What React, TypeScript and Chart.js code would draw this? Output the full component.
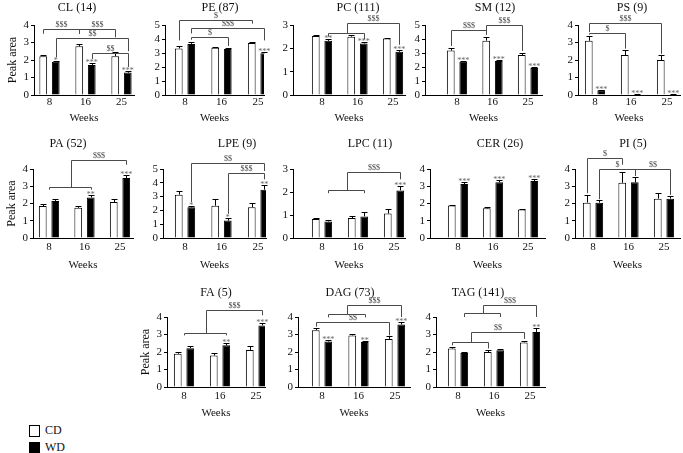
import { useEffect, useRef } from 'react';
import { Chart, registerables } from 'chart.js';

Chart.register(...registerables);

const WEEKS = ['8', '16', '25'];

// ---- data: mean peak area, upper SEM, stars (WD vs CD) ----
const CL_CD = [2.22, 2.78, 2.22];
const CL_CD_SEM = [0.04, 0.12, 0.22];
const CL_WD = [1.9, 1.72, 1.28];
const CL_WD_SEM = [0.05, 0.1, 0.1];
const CL_STARS = ['*', '***', '***'];

const PE_CD = [3.33, 3.38, 3.72];
const PE_CD_SEM = [0.15, 0.07, 0.07];
const PE_WD = [3.65, 3.28, 2.98];
const PE_WD_SEM = [0.15, 0.05, 0.07];
const PE_STARS = ['', '', '***'];

const PC_CD = [2.53, 2.5, 2.42];
const PC_CD_SEM = [0.06, 0.07, 0.04];
const PC_WD = [2.32, 2.21, 1.85];
const PC_WD_SEM = [0.06, 0.06, 0.08];
const PC_STARS = ['**', '***', '***'];

const SM_CD = [3.17, 3.88, 2.86];
const SM_CD_SEM = [0.2, 0.28, 0.17];
const SM_WD = [2.38, 2.42, 1.93];
const SM_WD_SEM = [0.07, 0.1, 0.08];
const SM_STARS = ['***', '***', '***'];

const PS_CD = [3.1, 2.28, 2.0];
const PS_CD_SEM = [0.25, 0.28, 0.28];
const PS_WD = [0.27, 0.03, 0.03];
const PS_WD_SEM = [0.03, 0.01, 0.01];
const PS_STARS = ['***', '***', '***'];

const PA_CD = [1.85, 1.75, 2.08];
const PA_CD_SEM = [0.1, 0.1, 0.2];
const PA_WD = [2.15, 2.35, 3.48];
const PA_WD_SEM = [0.12, 0.13, 0.15];
const PA_STARS = ['', '**', '***'];

const LPE_CD = [3.14, 2.34, 2.22];
const LPE_CD_SEM = [0.25, 0.5, 0.35];
const LPE_WD = [2.22, 1.26, 3.5];
const LPE_WD_SEM = [0.08, 0.22, 0.35];
const LPE_STARS = ['*', '*', '**'];

const LPC_CD = [0.83, 0.87, 1.06];
const LPC_CD_SEM = [0.04, 0.1, 0.2];
const LPC_WD = [0.72, 0.94, 2.07];
const LPC_WD_SEM = [0.05, 0.2, 0.18];
const LPC_STARS = ['', '', '***'];

const CER_CD = [1.88, 1.72, 1.65];
const CER_CD_SEM = [0.05, 0.08, 0.05];
const CER_WD = [3.13, 3.23, 3.3];
const CER_WD_SEM = [0.13, 0.12, 0.1];
const CER_STARS = ['***', '***', '***'];

const PI_CD = [2.05, 3.2, 2.28];
const PI_CD_SEM = [0.45, 0.6, 0.3];
const PI_WD = [2.05, 3.23, 2.28];
const PI_WD_SEM = [0.13, 0.28, 0.13];
const PI_STARS = ['', '', ''];

const FA_CD = [1.9, 1.8, 2.12];
const FA_CD_SEM = [0.12, 0.12, 0.22];
const FA_WD = [2.22, 2.38, 3.52];
const FA_WD_SEM = [0.12, 0.15, 0.16];
const FA_STARS = ['', '**', '***'];

const DAG_CD = [3.25, 2.95, 2.75];
const DAG_CD_SEM = [0.1, 0.08, 0.15];
const DAG_WD = [2.6, 2.57, 3.57];
const DAG_WD_SEM = [0.07, 0.08, 0.14];
const DAG_STARS = ['***', '**', '***'];

const TAG_CD = [2.2, 2.0, 2.55];
const TAG_CD_SEM = [0.08, 0.1, 0.1];
const TAG_WD = [1.95, 2.1, 3.15];
const TAG_WD_SEM = [0.05, 0.08, 0.25];
const TAG_STARS = ['', '', '**'];

// ---- significance brackets ($ = time effect), y in data units ----
type Ref = 'c8' | 'w8' | 'c16' | 'w16' | 'c25' | 'w25' | 'g8';
type Bracket = {
  a: Ref; b: Ref; y: number; da: number; db: number; label: string;
  top?: number; to?: Ref; dt?: number;
};

const CL_BR: Bracket[] = [
  { a: 'c8', b: 'c16', y: 3.75, da: 3.5, db: 3.5, label: '$$$' },
  { a: 'c16', b: 'c25', y: 3.75, da: 3.5, db: 3.3, label: '$$$' },
  { a: 'w8', b: 'w25', y: 3.24, da: 2.15, db: 2.5, label: '$$' },
  { a: 'w16', b: 'w25', y: 2.38, da: 2.05, db: 1.6, label: '$$' },
];
const PE_BR: Bracket[] = [
  { a: 'c8', b: 'c25', y: 5.36, da: 3.9, db: 5.1, label: '$' },
  { a: 'w8', b: 'w25', y: 4.76, da: 4.4, db: 3.9, label: '$$$' },
  { a: 'w8', b: 'w16', y: 4.17, da: 3.95, db: 3.5, label: '$' },
];
const PC_BR: Bracket[] = [
  { a: 'w8', b: 'w16', y: 2.64, da: 2.5, db: 2.4, label: '$$$', top: 3.07, to: 'w25', dt: 2.15 },
];
const SM_BR: Bracket[] = [
  { a: 'c8', b: 'c16', y: 4.64, da: 3.5, db: 4.3, label: '$$$' },
  { a: 'c16', b: 'c25', y: 5.0, da: 4.3, db: 3.15, label: '$$$' },
];
const PS_BR: Bracket[] = [
  { a: 'c8', b: 'c25', y: 4.1, da: 3.6, db: 2.35, label: '$$$' },
  { a: 'c8', b: 'c16', y: 3.56, da: 3.45, db: 2.65, label: '$' },
];
const PA_BR: Bracket[] = [
  { a: 'g8', b: 'w16', y: 2.94, da: 2.8, db: 2.8, label: '$$$', top: 4.5, to: 'w25', dt: 4.25 },
];
const LPE_BR: Bracket[] = [
  { a: 'w8', b: 'w25', y: 5.43, da: 2.6, db: 4.85, label: '$$' },
  { a: 'w16', b: 'w25', y: 4.7, da: 1.75, db: 4.25, label: '$$$' },
];
const LPC_BR: Bracket[] = [
  { a: 'w8', b: 'w16', y: 2.1, da: 1.95, db: 1.95, label: '$$$', top: 2.86, to: 'w25', dt: 2.55 },
];
const CER_BR: Bracket[] = [];
const PI_BR: Bracket[] = [
  { a: 'c8', b: 'c16', y: 4.64, da: 2.6, db: 4.25, label: '$' },
  { a: 'w8', b: 'w16', y: 4.0, da: 2.25, db: 3.6, label: '$' },
  { a: 'w16', b: 'w25', y: 4.0, da: 3.6, db: 2.5, label: '$$' },
];
const FA_BR: Bracket[] = [
  { a: 'g8', b: 'w16', y: 3.09, da: 2.95, db: 2.95, label: '$$$', top: 4.38, to: 'w25', dt: 4.1 },
];
const DAG_BR: Bracket[] = [
  { a: 'c8', b: 'c25', y: 3.71, da: 3.45, db: 2.95, label: '$$' },
  { a: 'w8', b: 'w16', y: 4.15, da: 3.98, db: 3.98, label: '$$$', top: 4.66, to: 'w25', dt: 4.0 },
];
const TAG_BR: Bracket[] = [
  { a: 'c8', b: 'c16', y: 2.58, da: 2.38, db: 2.2, label: '$$', top: 3.14, to: 'c25', dt: 2.75 },
  { a: 'w8', b: 'w16', y: 4.2, da: 4.0, db: 4.0, label: '$$$', top: 4.68, to: 'w25', dt: 4.0 },
];

type PanelData = {
  title: string; max: number;
  cd: number[]; cdSem: number[]; wd: number[]; wdSem: number[];
  stars: string[]; brackets: Bracket[];
};

const PANELS: PanelData[] = [
  { title: 'CL (14)', max: 4, cd: CL_CD, cdSem: CL_CD_SEM, wd: CL_WD, wdSem: CL_WD_SEM, stars: CL_STARS, brackets: CL_BR },
  { title: 'PE (87)', max: 5, cd: PE_CD, cdSem: PE_CD_SEM, wd: PE_WD, wdSem: PE_WD_SEM, stars: PE_STARS, brackets: PE_BR },
  { title: 'PC (111)', max: 3, cd: PC_CD, cdSem: PC_CD_SEM, wd: PC_WD, wdSem: PC_WD_SEM, stars: PC_STARS, brackets: PC_BR },
  { title: 'SM (12)', max: 5, cd: SM_CD, cdSem: SM_CD_SEM, wd: SM_WD, wdSem: SM_WD_SEM, stars: SM_STARS, brackets: SM_BR },
  { title: 'PS (9)', max: 4, cd: PS_CD, cdSem: PS_CD_SEM, wd: PS_WD, wdSem: PS_WD_SEM, stars: PS_STARS, brackets: PS_BR },
  { title: 'PA (52)', max: 4, cd: PA_CD, cdSem: PA_CD_SEM, wd: PA_WD, wdSem: PA_WD_SEM, stars: PA_STARS, brackets: PA_BR },
  { title: 'LPE (9)', max: 5, cd: LPE_CD, cdSem: LPE_CD_SEM, wd: LPE_WD, wdSem: LPE_WD_SEM, stars: LPE_STARS, brackets: LPE_BR },
  { title: 'LPC (11)', max: 3, cd: LPC_CD, cdSem: LPC_CD_SEM, wd: LPC_WD, wdSem: LPC_WD_SEM, stars: LPC_STARS, brackets: LPC_BR },
  { title: 'CER (26)', max: 4, cd: CER_CD, cdSem: CER_CD_SEM, wd: CER_WD, wdSem: CER_WD_SEM, stars: CER_STARS, brackets: CER_BR },
  { title: 'PI (5)', max: 4, cd: PI_CD, cdSem: PI_CD_SEM, wd: PI_WD, wdSem: PI_WD_SEM, stars: PI_STARS, brackets: PI_BR },
  { title: 'FA (5)', max: 4, cd: FA_CD, cdSem: FA_CD_SEM, wd: FA_WD, wdSem: FA_WD_SEM, stars: FA_STARS, brackets: FA_BR },
  { title: 'DAG (73)', max: 4, cd: DAG_CD, cdSem: DAG_CD_SEM, wd: DAG_WD, wdSem: DAG_WD_SEM, stars: DAG_STARS, brackets: DAG_BR },
  { title: 'TAG (141)', max: 4, cd: TAG_CD, cdSem: TAG_CD_SEM, wd: TAG_WD, wdSem: TAG_WD_SEM, stars: TAG_STARS, brackets: TAG_BR },
];

// ---- layout (page pixels) ----
type Box = {
  left: number; right: number; top: number; bottom: number;
  c0: number; s: number; titleX: number; titleY: number;
  yTitle: boolean; tickPad: number; weeksPad: number;
};
const R1 = { top: 25, bottom: 95, titleY: 8, tickPad: 1, weeksPad: 4 };
const R2 = { top: 169, bottom: 238, titleY: 144, tickPad: 3, weeksPad: 0 };
const R3 = { top: 317, bottom: 387, titleY: 293, tickPad: 3, weeksPad: 1 };
const BOXES: Box[] = [
  { ...R1, left: 34, right: 134, c0: 49.5, s: 36, titleX: 77, yTitle: true },
  { ...R1, left: 165, right: 264, c0: 185, s: 36.5, titleX: 220, yTitle: false },
  { ...R1, left: 293, right: 405, c0: 322, s: 35.5, titleX: 358, yTitle: false },
  { ...R1, left: 425, right: 542, c0: 457, s: 35.5, titleX: 495, yTitle: false },
  { ...R1, left: 578, right: 680, c0: 595, s: 36, titleX: 632, yTitle: false },
  { ...R2, left: 33, right: 133, c0: 49, s: 35.5, titleX: 68, yTitle: true },
  { ...R2, left: 163, right: 266, c0: 185, s: 36.5, titleX: 237, yTitle: false },
  { ...R2, left: 293, right: 405, c0: 322, s: 36, titleX: 370, yTitle: false },
  { ...R2, left: 430, right: 545, c0: 458, s: 35, titleX: 500, yTitle: false },
  { ...R2, left: 575, right: 680, c0: 593, s: 35.5, titleX: 633, yTitle: false },
  { ...R3, left: 167, right: 265, c0: 184, s: 36, titleX: 216, yTitle: true },
  { ...R3, left: 298, right: 410, c0: 322, s: 36.5, titleX: 350, yTitle: false },
  { ...R3, left: 436, right: 545, c0: 458, s: 36, titleX: 478, yTitle: false },
];

const FONT = "'Liberation Serif', 'DejaVu Serif', serif";
const PAD_T = 32;
const PAD_R = 6;
const XH = 34;
const LINE = '#4a4a4a';

function Panel({ p, b }: { p: PanelData; b: Box }) {
  const ref = useRef<HTMLCanvasElement>(null);
  const YW = b.yTitle ? 28 : 24;
  const cLeft = b.left - YW;
  const cTop = b.top - PAD_T;
  const width = YW + (b.right - b.left) + PAD_R;
  const height = PAD_T + (b.bottom - b.top) + XH + 2;
  const xMin = -(b.c0 - b.left) / b.s;
  const xMax = (b.right - b.c0) / b.s;

  useEffect(() => {
    const canvas = ref.current!;
    const annot = {
      id: 'annot',
      afterDatasetsDraw(chart: any) {
        const ctx = chart.ctx as CanvasRenderingContext2D;
        const ys = chart.scales.y;
        const m0 = chart.getDatasetMeta(0).data;
        const m1 = chart.getDatasetMeta(1).data;
        const bx = (r: Ref): number => {
          const i = r.endsWith('16') ? 1 : r.endsWith('25') ? 2 : 0;
          if (r[0] === 'c') return m0[i].x;
          if (r[0] === 'w') return m1[i].x;
          return (m0[i].x + m1[i].x) / 2;
        };
        const py = (v: number) => ys.getPixelForValue(v);
        ctx.save();
        // error bars (upper SEM)
        ctx.strokeStyle = '#000';
        ctx.lineWidth = 1;
        const series = [
          { v: p.cd, e: p.cdSem, m: m0 },
          { v: p.wd, e: p.wdSem, m: m1 },
        ];
        series.forEach((s) => {
          s.v.forEach((v, i) => {
            const x = Math.round(s.m[i].x) + 0.5;
            const y0 = py(v);
            const y1 = Math.round(py(v + s.e[i])) + 0.5;
            ctx.beginPath();
            ctx.moveTo(x, y0);
            ctx.lineTo(x, y1);
            ctx.moveTo(x - 3, y1);
            ctx.lineTo(x + 3, y1);
            ctx.stroke();
          });
        });
        // stars
        ctx.fillStyle = '#666';
        ctx.font = `8px ${FONT}`;
        ctx.textAlign = 'center';
        ctx.textBaseline = 'alphabetic';
        p.stars.forEach((st, i) => {
          if (!st) return;
          const x = m1[i].x;
          const y = py(p.wd[i] + p.wdSem[i]) + 3;
          ctx.fillText(st, x, y - 1);
        });
        // brackets
        ctx.strokeStyle = LINE;
        ctx.fillStyle = '#444';
        ctx.font = `8px ${FONT}`;
        ctx.textBaseline = 'bottom';
        p.brackets.forEach((br) => {
          const xa = Math.round(bx(br.a)) + 0.5;
          const xb = Math.round(bx(br.b)) + 0.5;
          const y = Math.round(py(br.y)) + 0.5;
          ctx.beginPath();
          ctx.moveTo(xa, py(br.da));
          ctx.lineTo(xa, y);
          ctx.lineTo(xb, y);
          ctx.lineTo(xb, py(br.db));
          if (br.top !== undefined && br.to && br.dt !== undefined) {
            const xm = Math.round((xa + xb) / 2) + 0.5;
            const xt = Math.round(bx(br.to)) + 0.5;
            const yt = Math.round(py(br.top)) + 0.5;
            ctx.moveTo(xm, y);
            ctx.lineTo(xm, yt);
            ctx.lineTo(xt, yt);
            ctx.lineTo(xt, py(br.dt));
            ctx.stroke();
            ctx.fillText(br.label, (xm + xt) / 2, yt - 1);
          } else {
            ctx.stroke();
            ctx.fillText(br.label, (xa + xb) / 2, y - 1);
          }
        });
        // panel title
        ctx.fillStyle = '#111';
        ctx.font = `12px ${FONT}`;
        ctx.textBaseline = 'middle';
        ctx.fillText(p.title, b.titleX - cLeft, b.titleY - cTop);
        ctx.restore();
      },
    };

    const chart = new Chart(canvas, {
      type: 'bar',
      data: {
        datasets: [
          {
            label: 'CD',
            data: p.cd.map((v, i) => ({ x: i, y: v })),
            backgroundColor: '#fff',
            borderColor: '#000',
            borderWidth: 1,
          },
          {
            label: 'WD',
            data: p.wd.map((v, i) => ({ x: i, y: v })),
            backgroundColor: '#000',
            borderColor: '#000',
            borderWidth: 1,
          },
        ],
      },
      options: {
        responsive: false,
        animation: false,
        devicePixelRatio: 1,
        categoryPercentage: 25 / b.s,
        barPercentage: 0.62,
        layout: { padding: { top: PAD_T, left: 0, right: PAD_R, bottom: 2 } },
        plugins: { legend: { display: false }, tooltip: { enabled: false }, title: { display: false } },
        scales: {
          x: {
            type: 'linear',
            offset: false,
            bounds: 'data',
            min: xMin,
            max: xMax,
            afterBuildTicks: (s: any) => {
              s.ticks = WEEKS.map((_, i) => ({ value: i }));
              s.min = xMin;
              s.max = xMax;
            },
            afterFit: (s: any) => { s.height = XH; },
            grid: { display: false, drawTicks: false, offset: false },
            border: { display: true, color: '#000', width: 1 },
            ticks: {
              padding: b.tickPad,
              color: '#111',
              font: { family: FONT, size: 11 },
              callback: (v: any) => WEEKS[Math.round(Number(v))] ?? '',
              maxRotation: 0,
              autoSkip: false,
              includeBounds: false,
            },
            title: {
              display: true,
              text: 'Weeks',
              color: '#111',
              font: { family: FONT, size: 11 },
              padding: { top: 0, bottom: b.weeksPad },
            },
          },
          y: {
            min: 0,
            max: p.max,
            afterFit: (s: any) => { s.width = YW; },
            grid: { drawOnChartArea: false, drawTicks: true, tickLength: 3, color: '#000' },
            border: { display: true, color: '#000', width: 1 },
            ticks: { stepSize: 1, autoSkip: false, padding: 2, color: '#111', font: { family: FONT, size: 11 } },
            title: {
              display: b.yTitle,
              text: 'Peak area',
              color: '#111',
              font: { family: FONT, size: 12 },
              padding: { top: 0, bottom: 0 },
            },
          },
        },
      } as any,
      plugins: [annot],
    });
    return () => chart.destroy();
  }, []);

  return (
    <canvas
      ref={ref}
      width={width}
      height={height}
      style={{ position: 'absolute', left: cLeft, top: cTop, width, height }}
    />
  );
}

export default function App() {
  return (
    <div style={{ position: 'absolute', left: 0, top: 0, width: 683, height: 453, background: '#fff', overflow: 'hidden', fontFamily: FONT }}>
      {PANELS.map((p, i) => (
        <Panel key={p.title} p={p} b={BOXES[i]} />
      ))}
      <div style={{ position: 'absolute', left: 29, top: 425, width: 9, height: 10, border: '1px solid #000', background: '#fff' }} />
      <div style={{ position: 'absolute', left: 45, top: 423, fontSize: 12, color: '#111' }}>CD</div>
      <div style={{ position: 'absolute', left: 29, top: 442, width: 9, height: 10, border: '1px solid #000', background: '#000' }} />
      <div style={{ position: 'absolute', left: 45, top: 440, fontSize: 12, color: '#111' }}>WD</div>
    </div>
  );
}
